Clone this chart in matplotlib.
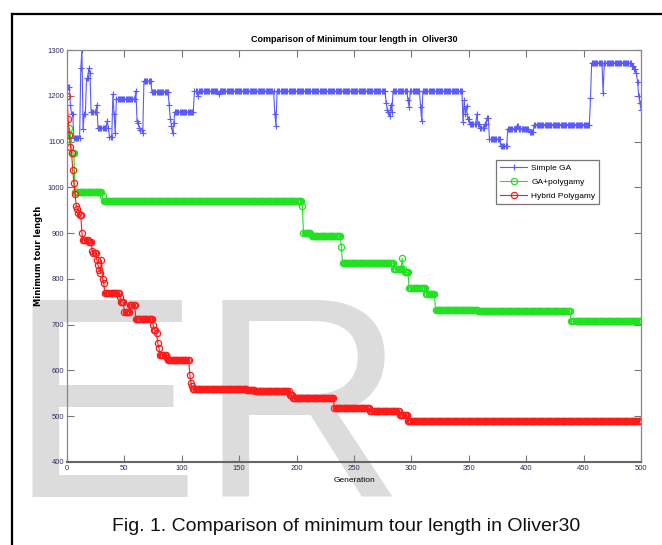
import numpy as np
import matplotlib.pyplot as plt
from matplotlib.lines import Line2D

# generation axis
gens = np.arange(0, 501)

# Simple GA: generation where each level starts, and the level
sga_start = [0, 1, 3, 4, 6, 12, 13, 14, 15, 17, 19, 20, 21, 26, 27, 35, 36, 37, 40, 41,
             42, 43, 60, 61, 62, 63, 64, 66, 67, 74, 89, 90, 91, 92, 93, 94, 111, 114, 115, 132,
             133, 181, 182, 183, 278, 279, 280, 281, 282, 283, 284, 297, 298, 299, 308, 309, 310, 345, 346, 347,
             348, 349, 351, 357, 358, 360, 364, 366, 368, 378, 384, 392, 394, 403, 407, 456, 457, 467, 468, 492,
             494, 496, 497, 498, 499, 500]
sga_val = [1215, 1220, 1180, 1160, 1108, 1260, 1300, 1127, 1160, 1238, 1260, 1250, 1165, 1180, 1130, 1145, 1130, 1111, 1204, 1160,
           1118, 1193, 1211, 1145, 1140, 1130, 1125, 1118, 1232, 1209, 1180, 1150, 1135, 1118, 1140, 1165, 1210, 1200, 1210, 1203,
           1210, 1160, 1135, 1210, 1185, 1170, 1165, 1155, 1180, 1165, 1210, 1190, 1175, 1210, 1175, 1145, 1210, 1142, 1190, 1160,
           1178, 1150, 1138, 1160, 1138, 1130, 1138, 1152, 1105, 1090, 1128, 1135, 1128, 1120, 1137, 1195, 1272, 1205, 1272, 1265,
           1258, 1250, 1230, 1200, 1185, 1170]

# GA + polygamy
gap_start = [0, 2, 3, 4, 7, 31, 32, 205, 206, 213, 239, 240, 285, 292, 293, 294, 298, 313, 321, 358, 439]
gap_val = [1105, 1130, 1115, 1075, 990, 980, 970, 960, 900, 893, 870, 835, 822, 845, 822, 814, 780, 768, 733, 729, 707]

# Hybrid polygamy
hyb_start = [0, 1, 2, 3, 4, 5, 6, 7, 8, 9, 10, 11, 13, 14, 19, 22, 23, 26, 27, 28,
             29, 30, 31, 32, 33, 46, 47, 50, 55, 60, 75, 76, 78, 79, 80, 81, 87, 88, 107, 108,
             109, 110, 157, 164, 194, 197, 233, 264, 290, 297]
hyb_val = [1200, 1150, 1114, 1089, 1075, 1038, 1010, 985, 960, 952, 945, 940, 900, 885, 880, 860, 856, 841, 830, 819,
           813, 841, 800, 790, 769, 760, 750, 728, 743, 712, 700, 688, 682, 660, 650, 634, 627, 623, 590, 572,
           565, 560, 558, 555, 546, 539, 517, 512, 503, 490]

series_names = ['Simple GA', 'GA+polygamy', 'Hybrid Polygamy']
x_ticks = np.arange(0, 501, 50)
y_ticks = np.arange(400, 1301, 100)


def steps(starts, values):
    idx = np.searchsorted(starts, gens, side='right') - 1
    return np.asarray(values, dtype=float)[idx]


narrow = ['Liberation Sans Narrow', 'Liberation Sans', 'DejaVu Sans']
tick_col = '#2e2e5c'

fig = plt.figure(figsize=(6.62, 5.45), dpi=100)
fig.patch.set_facecolor('white')

# light grey watermark letters behind the axes
fig.text(8 / 662, 1 - 497 / 545, 'E', fontsize=206, color='#dcdcdc',
         family='Liberation Sans', va='baseline', ha='left', zorder=-2)
fig.text(198 / 662, 1 - 497 / 545, 'R', fontsize=206, color='#dcdcdc',
         family='Liberation Sans', va='baseline', ha='left', zorder=-2)

ax = fig.add_axes([67 / 662, 1 - 462 / 545, 574 / 662, 412 / 545])
ax.set_facecolor('none')

ax.plot(gens, steps(sga_start, sga_val), '-', marker='+', color='#5a5aff',
        lw=0.8, ms=5, mew=0.8, label=series_names[0])
ax.plot(gens, steps(gap_start, gap_val), '-', marker='o', color='#22e022',
        lw=0.8, ms=4.5, mew=0.9, mfc='none', label=series_names[1])
ax.plot(gens, steps(hyb_start, hyb_val), '-', marker='o', color='#ff1a1a',
        lw=0.8, ms=4.5, mew=0.9, mfc='none', label=series_names[2])

ax.set_xlim(0, 500)
ax.set_ylim(400, 1300)
ax.set_xticks(x_ticks)
ax.set_yticks(y_ticks)
ax.tick_params(direction='in', length=5, width=0.8, color='#777777',
               top=True, right=True, labelsize=5.5, labelcolor=tick_col, pad=2)
for lab in ax.get_xticklabels() + ax.get_yticklabels():
    lab.set_family(narrow)
for side in ['top', 'right', 'left']:
    ax.spines[side].set_color('#888888')
    ax.spines[side].set_linewidth(0.9)
ax.spines['bottom'].set_color('#666666')
ax.spines['bottom'].set_linewidth(1.5)

ax.set_title('Comparison of Minimum tour length in  Oliver30', fontsize=6.5,
             family=narrow, fontweight='bold', pad=6)
ax.set_xlabel('Generation', fontsize=6, family=narrow, labelpad=4)
ax.set_ylabel('Minimum tour length', fontsize=6, fontweight='bold', labelpad=3)

leg = ax.legend(loc='upper left', bbox_to_anchor=(492 / 662, 1 - 156 / 545),
                bbox_transform=fig.transFigure, prop={'family': narrow, 'size': 6},
                frameon=True, fancybox=False, handlelength=3.2, borderpad=0.5,
                labelspacing=0.7, handletextpad=0.5)
leg.get_frame().set_edgecolor('#555555')
leg.get_frame().set_linewidth(0.9)

# caption under the chart
fig.text(346 / 662, 1 - 531 / 545, 'Fig. 1. Comparison of minimum tour length in Oliver30',
         fontsize=14, family='Liberation Sans', ha='center', va='baseline', color='#111111')

# outer frame
fig.add_artist(Line2D([11.5 / 662, 11.5 / 662], [0, 1 - 14 / 545], color='black', lw=1.6))
fig.add_artist(Line2D([11.5 / 662, 1], [1 - 14 / 545, 1 - 14 / 545], color='black', lw=1.6))

fig.savefig('out.png', dpi=100)
